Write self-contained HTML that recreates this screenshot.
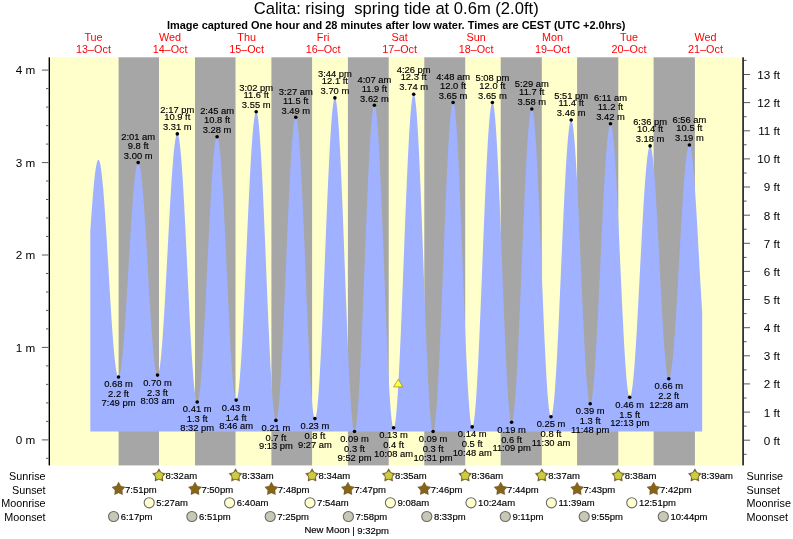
<!DOCTYPE html><html><head><meta charset="utf-8"><title>Calita tide times</title>
<style>html,body{margin:0;padding:0;background:#fff}svg{display:block}text{font-family:"Liberation Sans",Arial,Helvetica,sans-serif}</style></head><body>
<svg width="793" height="539" viewBox="0 0 793 539">
<rect width="793" height="539" fill="#fff"/>
<rect x="49.8" y="57.3" width="692.7" height="408.1" fill="#ffffcc"/>
<rect x="118.6" y="57.3" width="40.4" height="408.1" fill="#a6a6a6"/>
<rect x="195.0" y="57.3" width="40.5" height="408.1" fill="#a6a6a6"/>
<rect x="271.4" y="57.3" width="40.7" height="408.1" fill="#a6a6a6"/>
<rect x="347.9" y="57.3" width="40.8" height="408.1" fill="#a6a6a6"/>
<rect x="424.3" y="57.3" width="40.9" height="408.1" fill="#a6a6a6"/>
<rect x="500.7" y="57.3" width="41.1" height="408.1" fill="#a6a6a6"/>
<rect x="577.1" y="57.3" width="41.2" height="408.1" fill="#a6a6a6"/>
<rect x="653.6" y="57.3" width="41.3" height="408.1" fill="#a6a6a6"/>
<path d="M90.3 431.5 L90.3 231.2 L90.8 223.8 L91.3 216.5 L91.8 209.6 L92.3 202.9 L92.8 196.6 L93.3 190.7 L93.8 185.2 L94.3 180.2 L94.8 175.6 L95.3 171.6 L95.8 168.2 L96.3 165.3 L96.8 163.0 L97.3 161.3 L97.8 160.2 L98.3 159.8 L98.8 160.0 L99.3 160.8 L99.8 162.4 L100.3 164.5 L100.8 167.3 L101.3 170.7 L101.8 174.8 L102.3 179.4 L102.8 184.5 L103.3 190.1 L103.8 196.3 L104.3 202.8 L104.8 209.8 L105.3 217.2 L105.8 224.8 L106.3 232.7 L106.8 240.9 L107.3 249.2 L107.8 257.6 L108.3 266.1 L108.8 274.6 L109.3 283.0 L109.8 291.4 L110.3 299.6 L110.8 307.7 L111.3 315.5 L111.8 323.0 L112.3 330.2 L112.8 337.0 L113.3 343.3 L113.8 349.3 L114.3 354.7 L114.8 359.6 L115.3 363.9 L115.8 367.7 L116.3 370.8 L116.8 373.3 L117.3 375.2 L117.8 376.4 L118.3 377.0 L118.8 376.8 L119.3 376.1 L119.8 374.6 L120.3 372.5 L120.8 369.7 L121.3 366.3 L121.8 362.3 L122.3 357.7 L122.8 352.5 L123.3 346.9 L123.8 340.7 L124.3 334.1 L124.8 327.1 L125.3 319.7 L125.8 312.0 L126.3 304.1 L126.8 295.9 L127.3 287.5 L127.8 279.1 L128.3 270.6 L128.8 262.1 L129.3 253.6 L129.8 245.2 L130.3 237.0 L130.8 229.0 L131.3 221.3 L131.8 213.8 L132.3 206.7 L132.8 200.1 L133.3 193.8 L133.8 188.0 L134.3 182.8 L134.8 178.1 L135.3 174.0 L135.8 170.4 L136.3 167.6 L136.8 165.3 L137.3 163.7 L137.8 162.8 L138.3 162.6 L138.8 163.0 L139.3 164.2 L139.8 166.0 L140.3 168.6 L140.8 171.8 L141.3 175.7 L141.8 180.1 L142.3 185.2 L142.8 190.9 L143.3 197.0 L143.8 203.6 L144.3 210.7 L144.8 218.2 L145.3 225.9 L145.8 234.0 L146.3 242.3 L146.8 250.8 L147.3 259.4 L147.8 268.1 L148.3 276.8 L148.8 285.4 L149.3 293.9 L149.8 302.2 L150.3 310.4 L150.8 318.2 L151.3 325.7 L151.8 332.9 L152.3 339.6 L152.8 345.8 L153.3 351.5 L153.8 356.7 L154.3 361.3 L154.8 365.3 L155.3 368.6 L155.8 371.3 L156.3 373.2 L156.8 374.5 L157.3 375.1 L157.8 375.0 L158.3 374.1 L158.8 372.4 L159.3 370.1 L159.8 367.0 L160.3 363.2 L160.8 358.7 L161.3 353.6 L161.8 347.8 L162.3 341.5 L162.8 334.6 L163.3 327.3 L163.8 319.4 L164.3 311.2 L164.8 302.6 L165.3 293.7 L165.8 284.6 L166.3 275.3 L166.8 265.8 L167.3 256.3 L167.8 246.8 L168.3 237.3 L168.8 227.9 L169.3 218.7 L169.8 209.7 L170.3 201.0 L170.8 192.7 L171.3 184.7 L171.8 177.1 L172.3 170.1 L172.8 163.5 L173.3 157.6 L173.8 152.2 L174.3 147.5 L174.8 143.4 L175.3 140.1 L175.8 137.4 L176.3 135.5 L176.8 134.3 L177.3 133.9 L177.8 134.3 L178.3 135.5 L178.8 137.5 L179.3 140.3 L179.8 144.0 L180.3 148.4 L180.8 153.5 L181.3 159.3 L181.8 165.9 L182.3 173.0 L182.8 180.8 L183.3 189.1 L183.8 197.9 L184.3 207.1 L184.8 216.7 L185.3 226.6 L185.8 236.7 L186.3 247.1 L186.8 257.6 L187.3 268.2 L187.8 278.7 L188.3 289.2 L188.8 299.6 L189.3 309.7 L189.8 319.6 L190.3 329.2 L190.8 338.4 L191.3 347.2 L191.8 355.4 L192.3 363.2 L192.8 370.3 L193.3 376.8 L193.8 382.6 L194.3 387.7 L194.8 392.1 L195.3 395.7 L195.8 398.5 L196.3 400.5 L196.8 401.6 L197.3 401.9 L197.8 401.4 L198.3 400.1 L198.8 398.0 L199.3 395.0 L199.8 391.3 L200.3 386.7 L200.8 381.5 L201.3 375.5 L201.8 368.9 L202.3 361.7 L202.8 353.8 L203.3 345.5 L203.8 336.6 L204.3 327.4 L204.8 317.8 L205.3 307.8 L205.8 297.6 L206.3 287.3 L206.8 276.8 L207.3 266.3 L207.8 255.8 L208.3 245.4 L208.8 235.2 L209.3 225.1 L209.8 215.4 L210.3 205.9 L210.8 196.9 L211.3 188.3 L211.8 180.3 L212.3 172.8 L212.8 165.9 L213.3 159.6 L213.8 154.1 L214.3 149.2 L214.8 145.1 L215.3 141.8 L215.8 139.3 L216.3 137.7 L216.8 136.8 L217.3 136.8 L217.8 137.6 L218.3 139.4 L218.8 142.0 L219.3 145.4 L219.8 149.7 L220.3 154.7 L220.8 160.6 L221.3 167.1 L221.8 174.3 L222.3 182.2 L222.8 190.6 L223.3 199.6 L223.8 209.0 L224.3 218.8 L224.8 229.0 L225.3 239.4 L225.8 250.0 L226.3 260.7 L226.8 271.5 L227.3 282.3 L227.8 293.0 L228.3 303.5 L228.8 313.7 L229.3 323.7 L229.8 333.3 L230.3 342.5 L230.8 351.1 L231.3 359.2 L231.8 366.7 L232.3 373.6 L232.8 379.7 L233.3 385.1 L233.8 389.7 L234.3 393.5 L234.8 396.4 L235.3 398.5 L235.8 399.8 L236.3 400.1 L236.8 399.6 L237.3 398.1 L237.8 395.8 L238.3 392.6 L238.8 388.6 L239.3 383.8 L239.8 378.1 L240.3 371.7 L240.8 364.6 L241.3 356.9 L241.8 348.5 L242.3 339.5 L242.8 330.0 L243.3 320.1 L243.8 309.7 L244.3 299.0 L244.8 288.1 L245.3 277.0 L245.8 265.7 L246.3 254.4 L246.8 243.0 L247.3 231.8 L247.8 220.7 L248.3 209.8 L248.8 199.2 L249.3 189.0 L249.8 179.2 L250.3 169.8 L250.8 161.0 L251.3 152.8 L251.8 145.2 L252.3 138.3 L252.8 132.1 L253.3 126.7 L253.8 122.0 L254.3 118.2 L254.8 115.3 L255.3 113.2 L255.8 112.0 L256.3 111.7 L256.8 112.4 L257.3 114.0 L257.8 116.6 L258.3 120.1 L258.8 124.6 L259.3 130.0 L259.8 136.2 L260.3 143.2 L260.8 151.1 L261.3 159.6 L261.8 168.9 L262.3 178.7 L262.8 189.1 L263.3 200.0 L263.8 211.4 L264.3 223.0 L264.8 235.0 L265.3 247.1 L265.8 259.4 L266.3 271.7 L266.8 283.9 L267.3 296.1 L267.8 308.0 L268.3 319.7 L268.8 331.1 L269.3 342.0 L269.8 352.5 L270.3 362.4 L270.8 371.7 L271.3 380.3 L271.8 388.2 L272.3 395.3 L272.8 401.6 L273.3 407.1 L273.8 411.6 L274.3 415.3 L274.8 418.0 L275.3 419.7 L275.8 420.4 L276.3 420.2 L276.8 419.0 L277.3 416.9 L277.8 413.8 L278.3 409.9 L278.8 405.1 L279.3 399.4 L279.8 392.9 L280.3 385.6 L280.8 377.6 L281.3 369.0 L281.8 359.7 L282.3 349.8 L282.8 339.4 L283.3 328.6 L283.8 317.4 L284.3 305.9 L284.8 294.2 L285.3 282.3 L285.8 270.4 L286.3 258.4 L286.8 246.5 L287.3 234.7 L287.8 223.1 L288.3 211.9 L288.8 201.0 L289.3 190.5 L289.8 180.5 L290.3 171.0 L290.8 162.2 L291.3 154.0 L291.8 146.5 L292.3 139.9 L292.8 134.0 L293.3 128.9 L293.8 124.8 L294.3 121.5 L294.8 119.1 L295.3 117.7 L295.8 117.3 L296.3 117.8 L296.8 119.3 L297.3 121.8 L297.8 125.4 L298.3 129.8 L298.8 135.2 L299.3 141.5 L299.8 148.7 L300.3 156.6 L300.8 165.3 L301.3 174.7 L301.8 184.8 L302.3 195.4 L302.8 206.4 L303.3 217.9 L303.8 229.8 L304.3 241.8 L304.8 254.1 L305.3 266.5 L305.8 278.8 L306.3 291.1 L306.8 303.3 L307.3 315.1 L307.8 326.7 L308.3 337.9 L308.8 348.6 L309.3 358.8 L309.8 368.3 L310.3 377.2 L310.8 385.4 L311.3 392.7 L311.8 399.2 L312.3 404.8 L312.8 409.5 L313.3 413.3 L313.8 416.0 L314.3 417.8 L314.8 418.6 L315.3 418.3 L315.8 417.1 L316.3 414.9 L316.8 411.7 L317.3 407.6 L317.8 402.5 L318.3 396.6 L318.8 389.8 L319.3 382.2 L319.8 373.9 L320.3 364.8 L320.8 355.1 L321.3 344.8 L321.8 334.0 L322.3 322.7 L322.8 311.0 L323.3 298.9 L323.8 286.6 L324.3 274.2 L324.8 261.6 L325.3 249.1 L325.8 236.6 L326.3 224.2 L326.8 212.0 L327.3 200.1 L327.8 188.6 L328.3 177.5 L328.8 166.9 L329.3 156.8 L329.8 147.4 L330.3 138.7 L330.8 130.7 L331.3 123.4 L331.8 117.0 L332.3 111.5 L332.8 106.9 L333.3 103.2 L333.8 100.5 L334.3 98.7 L334.8 97.9 L335.3 98.1 L335.8 99.4 L336.3 101.8 L336.8 105.2 L337.3 109.6 L337.8 115.1 L338.3 121.5 L338.8 128.8 L339.3 137.0 L339.8 146.0 L340.3 155.8 L340.8 166.3 L341.3 177.4 L341.8 189.1 L342.3 201.3 L342.8 213.9 L343.3 226.8 L343.8 240.0 L344.3 253.3 L344.8 266.7 L345.3 280.1 L345.8 293.4 L346.3 306.5 L346.8 319.3 L347.3 331.8 L347.8 343.8 L348.3 355.4 L348.8 366.3 L349.3 376.6 L349.8 386.2 L350.3 395.0 L350.8 402.9 L351.3 410.0 L351.8 416.1 L352.3 421.2 L352.8 425.3 L353.3 428.4 L353.8 430.5 L354.3 431.4 L354.8 431.3 L355.3 430.2 L355.8 428.1 L356.3 425.0 L356.8 420.9 L357.3 415.9 L357.8 409.9 L358.3 403.1 L358.8 395.4 L359.3 387.0 L359.8 377.8 L360.3 367.9 L360.8 357.4 L361.3 346.4 L361.8 334.9 L362.3 322.9 L362.8 310.6 L363.3 298.1 L363.8 285.4 L364.3 272.5 L364.8 259.7 L365.3 246.9 L365.8 234.2 L366.3 221.7 L366.8 209.6 L367.3 197.8 L367.8 186.4 L368.3 175.6 L368.8 165.3 L369.3 155.6 L369.8 146.7 L370.3 138.5 L370.8 131.1 L371.3 124.6 L371.8 119.0 L372.3 114.3 L372.8 110.6 L373.3 107.8 L373.8 106.0 L374.3 105.3 L374.8 105.6 L375.3 106.9 L375.8 109.3 L376.3 112.8 L376.8 117.3 L377.3 122.8 L377.8 129.3 L378.3 136.7 L378.8 145.0 L379.3 154.1 L379.8 163.9 L380.3 174.4 L380.8 185.6 L381.3 197.2 L381.8 209.4 L382.3 221.9 L382.8 234.8 L383.3 247.8 L383.8 261.0 L384.3 274.2 L384.8 287.3 L385.3 300.3 L385.8 313.1 L386.3 325.6 L386.8 337.7 L387.3 349.3 L387.8 360.3 L388.3 370.8 L388.8 380.5 L389.3 389.4 L389.8 397.6 L390.3 404.8 L390.8 411.2 L391.3 416.5 L391.8 420.9 L392.3 424.2 L392.8 426.5 L393.3 427.6 L393.8 427.8 L394.3 426.8 L394.8 424.9 L395.3 422.0 L395.8 418.0 L396.3 413.2 L396.8 407.4 L397.3 400.7 L397.8 393.1 L398.3 384.7 L398.8 375.6 L399.3 365.8 L399.8 355.3 L400.3 344.3 L400.8 332.7 L401.3 320.7 L401.8 308.4 L402.3 295.7 L402.8 282.9 L403.3 269.9 L403.8 256.8 L404.3 243.8 L404.8 230.9 L405.3 218.2 L405.8 205.7 L406.3 193.6 L406.8 181.9 L407.3 170.6 L407.8 159.9 L408.3 149.9 L408.8 140.5 L409.3 131.8 L409.8 124.0 L410.3 117.0 L410.8 110.8 L411.3 105.6 L411.8 101.3 L412.3 98.0 L412.8 95.7 L413.3 94.5 L413.8 94.2 L414.3 95.0 L414.8 96.9 L415.3 99.9 L415.8 104.0 L416.3 109.1 L416.8 115.2 L417.3 122.3 L417.8 130.3 L418.3 139.2 L418.8 148.9 L419.3 159.4 L419.8 170.5 L420.3 182.2 L420.8 194.5 L421.3 207.2 L421.8 220.2 L422.3 233.6 L422.8 247.1 L423.3 260.8 L423.8 274.4 L424.3 288.0 L424.8 301.4 L425.3 314.6 L425.8 327.4 L426.3 339.8 L426.8 351.7 L427.3 363.0 L427.8 373.7 L428.3 383.6 L428.8 392.7 L429.3 401.0 L429.8 408.4 L430.3 414.8 L430.8 420.2 L431.3 424.6 L431.8 428.0 L432.3 430.2 L432.8 431.4 L433.3 431.4 L433.8 430.5 L434.3 428.5 L434.8 425.5 L435.3 421.6 L435.8 416.7 L436.3 410.9 L436.8 404.2 L437.3 396.7 L437.8 388.3 L438.3 379.2 L438.8 369.5 L439.3 359.1 L439.8 348.1 L440.3 336.6 L440.8 324.7 L441.3 312.5 L441.8 300.0 L442.3 287.2 L442.8 274.4 L443.3 261.5 L443.8 248.6 L444.3 235.9 L444.8 223.3 L445.3 211.0 L445.8 199.1 L446.3 187.5 L446.8 176.5 L447.3 166.0 L447.8 156.1 L448.3 147.0 L448.8 138.5 L449.3 130.9 L449.8 124.0 L450.3 118.1 L450.8 113.1 L451.3 109.0 L451.8 105.9 L452.3 103.8 L452.8 102.7 L453.3 102.6 L453.8 103.6 L454.3 105.6 L454.8 108.8 L455.3 113.0 L455.8 118.2 L456.3 124.4 L456.8 131.5 L457.3 139.6 L457.8 148.5 L458.3 158.1 L458.8 168.5 L459.3 179.6 L459.8 191.2 L460.3 203.3 L460.8 215.8 L461.3 228.7 L461.8 241.8 L462.3 255.0 L462.8 268.4 L463.3 281.7 L463.8 294.8 L464.3 307.8 L464.8 320.5 L465.3 332.8 L465.8 344.6 L466.3 356.0 L466.8 366.7 L467.3 376.7 L467.8 385.9 L468.3 394.3 L468.8 401.9 L469.3 408.5 L469.8 414.2 L470.3 418.9 L470.8 422.5 L471.3 425.0 L471.8 426.5 L472.3 426.9 L472.8 426.3 L473.3 424.6 L473.8 422.1 L474.3 418.5 L474.8 414.1 L475.3 408.7 L475.8 402.4 L476.3 395.4 L476.8 387.5 L477.3 378.9 L477.8 369.6 L478.3 359.7 L478.8 349.1 L479.3 338.1 L479.8 326.7 L480.3 314.8 L480.8 302.7 L481.3 290.3 L481.8 277.8 L482.3 265.2 L482.8 252.6 L483.3 240.0 L483.8 227.6 L484.3 215.5 L484.8 203.6 L485.3 192.1 L485.8 181.1 L486.3 170.5 L486.8 160.5 L487.3 151.2 L487.8 142.5 L488.3 134.6 L488.8 127.4 L489.3 121.1 L489.8 115.7 L490.3 111.2 L490.8 107.6 L491.3 104.9 L491.8 103.2 L492.3 102.5 L492.8 102.8 L493.3 104.2 L493.8 106.6 L494.3 110.1 L494.8 114.6 L495.3 120.0 L495.8 126.5 L496.3 133.8 L496.8 142.0 L497.3 151.1 L497.8 160.8 L498.3 171.3 L498.8 182.3 L499.3 193.9 L499.8 206.0 L500.3 218.4 L500.8 231.1 L501.3 244.0 L501.8 257.1 L502.3 270.2 L502.8 283.2 L503.3 296.1 L503.8 308.8 L504.3 321.2 L504.8 333.1 L505.3 344.6 L505.8 355.6 L506.3 365.9 L506.8 375.5 L507.3 384.4 L507.8 392.4 L508.3 399.6 L508.8 405.9 L509.3 411.2 L509.8 415.5 L510.3 418.7 L510.8 420.9 L511.3 422.1 L511.8 422.2 L512.3 421.3 L512.8 419.5 L513.3 416.8 L513.8 413.1 L514.3 408.6 L514.8 403.2 L515.3 396.9 L515.8 389.9 L516.3 382.1 L516.8 373.6 L517.3 364.4 L517.8 354.7 L518.3 344.4 L518.8 333.6 L519.3 322.4 L519.8 310.9 L520.3 299.1 L520.8 287.1 L521.3 275.0 L521.8 262.8 L522.3 250.6 L522.8 238.6 L523.3 226.6 L523.8 215.0 L524.3 203.6 L524.8 192.6 L525.3 182.0 L525.8 172.0 L526.3 162.5 L526.8 153.7 L527.3 145.5 L527.8 138.0 L528.3 131.3 L528.8 125.5 L529.3 120.5 L529.8 116.3 L530.3 113.1 L530.8 110.8 L531.3 109.4 L531.8 109.0 L532.3 109.5 L532.8 111.1 L533.3 113.7 L533.8 117.3 L534.3 121.9 L534.8 127.4 L535.3 133.9 L535.8 141.2 L536.3 149.3 L536.8 158.2 L537.3 167.7 L537.8 177.9 L538.3 188.7 L538.8 200.0 L539.3 211.7 L539.8 223.8 L540.3 236.1 L540.8 248.6 L541.3 261.2 L541.8 273.7 L542.3 286.3 L542.8 298.6 L543.3 310.8 L543.8 322.6 L544.3 334.0 L544.8 344.9 L545.3 355.3 L545.8 365.0 L546.3 374.1 L546.8 382.4 L547.3 390.0 L547.8 396.6 L548.3 402.4 L548.8 407.2 L549.3 411.1 L549.8 414.0 L550.3 415.9 L550.8 416.7 L551.3 416.5 L551.8 415.5 L552.3 413.5 L552.8 410.7 L553.3 407.0 L553.8 402.5 L554.3 397.2 L554.8 391.1 L555.3 384.3 L555.8 376.8 L556.3 368.6 L556.8 359.8 L557.3 350.5 L557.8 340.6 L558.3 330.4 L558.8 319.7 L559.3 308.8 L559.8 297.6 L560.3 286.2 L560.8 274.8 L561.3 263.2 L561.8 251.8 L562.3 240.4 L562.8 229.2 L563.3 218.2 L563.8 207.5 L564.3 197.2 L564.8 187.4 L565.3 178.0 L565.8 169.1 L566.3 160.9 L566.8 153.3 L567.3 146.4 L567.8 140.2 L568.3 134.8 L568.8 130.2 L569.3 126.4 L569.8 123.5 L570.3 121.5 L570.8 120.3 L571.3 120.1 L571.8 120.7 L572.3 122.4 L572.8 125.0 L573.3 128.6 L573.8 133.0 L574.3 138.4 L574.8 144.6 L575.3 151.6 L575.8 159.3 L576.3 167.8 L576.8 176.9 L577.3 186.6 L577.8 196.8 L578.3 207.4 L578.8 218.5 L579.3 229.8 L579.8 241.3 L580.3 253.0 L580.8 264.7 L581.3 276.5 L581.8 288.1 L582.3 299.5 L582.8 310.7 L583.3 321.6 L583.8 332.0 L584.3 342.0 L584.8 351.4 L585.3 360.2 L585.8 368.3 L586.3 375.7 L586.8 382.4 L587.3 388.1 L587.8 393.1 L588.3 397.1 L588.8 400.2 L589.3 402.4 L589.8 403.5 L590.3 403.8 L590.8 403.1 L591.3 401.6 L591.8 399.4 L592.3 396.2 L592.8 392.4 L593.3 387.7 L593.8 382.3 L594.3 376.2 L594.8 369.4 L595.3 362.0 L595.8 354.0 L596.3 345.5 L596.8 336.5 L597.3 327.0 L597.8 317.2 L598.3 307.1 L598.8 296.7 L599.3 286.1 L599.8 275.3 L600.3 264.5 L600.8 253.7 L601.3 243.0 L601.8 232.4 L602.3 222.0 L602.8 211.8 L603.3 201.9 L603.8 192.4 L604.3 183.3 L604.8 174.7 L605.3 166.6 L605.8 159.2 L606.3 152.3 L606.8 146.1 L607.3 140.6 L607.8 135.8 L608.3 131.8 L608.8 128.6 L609.3 126.2 L609.8 124.6 L610.3 123.8 L610.8 123.9 L611.3 124.9 L611.8 126.8 L612.3 129.6 L612.8 133.2 L613.3 137.7 L613.8 143.0 L614.3 149.1 L614.8 156.0 L615.3 163.5 L615.8 171.7 L616.3 180.5 L616.8 189.8 L617.3 199.6 L617.8 209.8 L618.3 220.4 L618.8 231.2 L619.3 242.2 L619.8 253.3 L620.3 264.4 L620.8 275.6 L621.3 286.6 L621.8 297.5 L622.3 308.1 L622.8 318.4 L623.3 328.3 L623.8 337.8 L624.3 346.8 L624.8 355.1 L625.3 362.9 L625.8 370.0 L626.3 376.3 L626.8 381.8 L627.3 386.6 L627.8 390.5 L628.3 393.6 L628.8 395.7 L629.3 397.0 L629.8 397.3 L630.3 396.9 L630.8 395.7 L631.3 393.7 L631.8 391.0 L632.3 387.6 L632.8 383.6 L633.3 378.8 L633.8 373.4 L634.3 367.4 L634.8 360.9 L635.3 353.8 L635.8 346.2 L636.3 338.2 L636.8 329.8 L637.3 321.0 L637.8 311.9 L638.3 302.6 L638.8 293.1 L639.3 283.5 L639.8 273.8 L640.3 264.1 L640.8 254.5 L641.3 244.9 L641.8 235.5 L642.3 226.4 L642.8 217.4 L643.3 208.9 L643.8 200.6 L644.3 192.9 L644.8 185.5 L645.3 178.7 L645.8 172.5 L646.3 166.8 L646.8 161.8 L647.3 157.4 L647.8 153.7 L648.3 150.7 L648.8 148.4 L649.3 146.9 L649.8 146.0 L650.3 146.0 L650.8 146.8 L651.3 148.3 L651.8 150.7 L652.3 153.9 L652.8 157.8 L653.3 162.5 L653.8 167.8 L654.3 173.9 L654.8 180.6 L655.3 187.8 L655.8 195.6 L656.3 203.8 L656.8 212.5 L657.3 221.5 L657.8 230.7 L658.3 240.3 L658.8 249.9 L659.3 259.7 L659.8 269.5 L660.3 279.2 L660.8 288.8 L661.3 298.2 L661.8 307.4 L662.3 316.3 L662.8 324.7 L663.3 332.8 L663.8 340.3 L664.3 347.3 L664.8 353.7 L665.3 359.4 L665.8 364.5 L666.3 368.8 L666.8 372.4 L667.3 375.2 L667.8 377.2 L668.3 378.5 L668.8 378.8 L669.3 378.5 L669.8 377.5 L670.3 375.8 L670.8 373.4 L671.3 370.4 L671.8 366.7 L672.3 362.5 L672.8 357.7 L673.3 352.3 L673.8 346.4 L674.3 339.9 L674.8 333.1 L675.3 325.8 L675.8 318.2 L676.3 310.2 L676.8 302.0 L677.3 293.5 L677.8 284.8 L678.3 276.0 L678.8 267.2 L679.3 258.2 L679.8 249.4 L680.3 240.5 L680.8 231.9 L681.3 223.3 L681.8 215.1 L682.3 207.0 L682.8 199.3 L683.3 192.0 L683.8 185.1 L684.3 178.6 L684.8 172.6 L685.3 167.1 L685.8 162.2 L686.3 157.8 L686.8 154.1 L687.3 150.9 L687.8 148.5 L688.3 146.6 L688.8 145.5 L689.3 145.0 L689.8 145.2 L690.3 146.2 L690.8 148.0 L691.3 150.5 L691.8 153.7 L692.3 157.6 L692.8 162.2 L693.3 167.4 L693.8 173.2 L694.3 179.6 L694.8 186.5 L695.3 193.9 L695.8 201.7 L696.3 209.8 L696.8 218.3 L697.3 227.0 L697.8 235.9 L698.3 244.9 L698.8 254.0 L699.3 263.1 L699.8 272.1 L700.3 280.9 L700.8 289.6 L701.3 298.0 L701.8 306.1 L702.2 312.3 L702.2 431.5 Z" fill="#a0b2ff"/>
<rect x="48.6" y="57.3" width="1.4" height="408.1" fill="#000"/><rect x="742.2" y="57.3" width="1.8" height="408.1" fill="#333"/>
<path d="M46 458.3 H48.3 M41.9 439.9 H48.3 M46 421.4 H48.3 M46 402.9 H48.3 M46 384.4 H48.3 M46 365.9 H48.3 M41.9 347.4 H48.3 M46 328.9 H48.3 M46 310.4 H48.3 M46 292.0 H48.3 M46 273.5 H48.3 M41.9 255.0 H48.3 M46 236.5 H48.3 M46 218.0 H48.3 M46 199.5 H48.3 M46 181.0 H48.3 M41.9 162.6 H48.3 M46 144.1 H48.3 M46 125.6 H48.3 M46 107.1 H48.3 M46 88.6 H48.3 M41.9 70.1 H48.3 M743.8 454.3 H746.6 M743.8 440.2 H750 M743.8 426.1 H746.6 M743.8 412.1 H750 M743.8 398.0 H746.6 M743.8 383.9 H750 M743.8 369.9 H746.6 M743.8 355.8 H750 M743.8 341.7 H746.6 M743.8 327.7 H750 M743.8 313.6 H746.6 M743.8 299.5 H750 M743.8 285.5 H746.6 M743.8 271.4 H750 M743.8 257.4 H746.6 M743.8 243.3 H750 M743.8 229.2 H746.6 M743.8 215.2 H750 M743.8 201.1 H746.6 M743.8 187.0 H750 M743.8 173.0 H746.6 M743.8 158.9 H750 M743.8 144.8 H746.6 M743.8 130.8 H750 M743.8 116.7 H746.6 M743.8 102.6 H750 M743.8 88.6 H746.6 M743.8 74.5 H750 M743.8 60.4 H746.6" stroke="#000" stroke-width="0.65" fill="none"/>
<g font-size="11.7px" fill="#000" text-anchor="end">
<text x="35.3" y="444.2">0 m</text>
<text x="35.3" y="351.7">1 m</text>
<text x="35.3" y="259.3">2 m</text>
<text x="35.3" y="166.9">3 m</text>
<text x="35.3" y="74.4">4 m</text>
<text x="780.1" y="444.6">0 ft</text>
<text x="780.1" y="416.5">1 ft</text>
<text x="780.1" y="388.3">2 ft</text>
<text x="780.1" y="360.2">3 ft</text>
<text x="780.1" y="332.1">4 ft</text>
<text x="780.1" y="303.9">5 ft</text>
<text x="780.1" y="275.8">6 ft</text>
<text x="780.1" y="247.7">7 ft</text>
<text x="780.1" y="219.6">8 ft</text>
<text x="780.1" y="191.4">9 ft</text>
<text x="780.1" y="163.3">10 ft</text>
<text x="780.1" y="135.2">11 ft</text>
<text x="780.1" y="107.0">12 ft</text>
<text x="780.1" y="78.9">13 ft</text>
</g>
<text x="396.2" y="14.1" font-size="16.6px" text-anchor="middle" fill="#000" style="white-space:pre">Calita: rising  spring tide at 0.6m (2.0ft)</text>
<text x="396.2" y="29" font-size="10.96px" font-weight="bold" text-anchor="middle" fill="#000">Image captured One hour and 28 minutes after low water. Times are CEST (UTC +2.0hrs)</text>
<g font-size="10.8px" fill="#ff0000" text-anchor="middle">
<text x="93.5" y="41">Tue</text><text x="93.5" y="53">13–Oct</text>
<text x="170.1" y="41">Wed</text><text x="170.1" y="53">14–Oct</text>
<text x="246.6" y="41">Thu</text><text x="246.6" y="53">15–Oct</text>
<text x="323.1" y="41">Fri</text><text x="323.1" y="53">16–Oct</text>
<text x="399.6" y="41">Sat</text><text x="399.6" y="53">17–Oct</text>
<text x="476.1" y="41">Sun</text><text x="476.1" y="53">18–Oct</text>
<text x="552.5" y="41">Mon</text><text x="552.5" y="53">19–Oct</text>
<text x="629.0" y="41">Tue</text><text x="629.0" y="53">20–Oct</text>
<text x="705.5" y="41">Wed</text><text x="705.5" y="53">21–Oct</text>
</g>
<g font-size="9.4px" fill="#000" stroke="#000" stroke-width="0.15" text-anchor="middle">
<text x="118.5" y="387">0.68 m</text><text x="118.5" y="397">2.2 ft</text><text x="118.5" y="406">7:49 pm</text>
<text x="138.2" y="140">2:01 am</text><text x="138.2" y="149">9.8 ft</text><text x="138.2" y="159">3.00 m</text>
<text x="157.5" y="386">0.70 m</text><text x="157.5" y="396">2.3 ft</text><text x="157.5" y="404">8:03 am</text>
<text x="177.3" y="113">2:17 pm</text><text x="177.3" y="120">10.9 ft</text><text x="177.3" y="130">3.31 m</text>
<text x="197.2" y="412">0.41 m</text><text x="197.2" y="422">1.3 ft</text><text x="197.2" y="431">8:32 pm</text>
<text x="217.1" y="114">2:45 am</text><text x="217.1" y="123">10.8 ft</text><text x="217.1" y="133">3.28 m</text>
<text x="236.2" y="411">0.43 m</text><text x="236.2" y="421">1.4 ft</text><text x="236.2" y="429">8:46 am</text>
<text x="256.2" y="91">3:02 pm</text><text x="256.2" y="98">11.6 ft</text><text x="256.2" y="108">3.55 m</text>
<text x="275.9" y="431">0.21 m</text><text x="275.9" y="441">0.7 ft</text><text x="275.9" y="449">9:13 pm</text>
<text x="295.8" y="95">3:27 am</text><text x="295.8" y="104">11.5 ft</text><text x="295.8" y="114">3.49 m</text>
<text x="314.9" y="429">0.23 m</text><text x="314.9" y="439">0.8 ft</text><text x="314.9" y="448">9:27 am</text>
<text x="334.9" y="77">3:44 pm</text><text x="334.9" y="84">12.1 ft</text><text x="334.9" y="94">3.70 m</text>
<text x="354.5" y="442">0.09 m</text><text x="354.5" y="452">0.3 ft</text><text x="354.5" y="461">9:52 pm</text>
<text x="374.4" y="83">4:07 am</text><text x="374.4" y="92">11.9 ft</text><text x="374.4" y="102">3.62 m</text>
<text x="393.6" y="438">0.13 m</text><text x="393.6" y="448">0.4 ft</text><text x="393.6" y="457">10:08 am</text>
<text x="413.7" y="73">4:26 pm</text><text x="413.7" y="80">12.3 ft</text><text x="413.7" y="90">3.74 m</text>
<text x="433.1" y="442">0.09 m</text><text x="433.1" y="452">0.3 ft</text><text x="433.1" y="461">10:31 pm</text>
<text x="453.1" y="80">4:48 am</text><text x="453.1" y="89">12.0 ft</text><text x="453.1" y="99">3.65 m</text>
<text x="472.2" y="437">0.14 m</text><text x="472.2" y="447">0.5 ft</text><text x="472.2" y="456">10:48 am</text>
<text x="492.4" y="81">5:08 pm</text><text x="492.4" y="89">12.0 ft</text><text x="492.4" y="99">3.65 m</text>
<text x="511.6" y="433">0.19 m</text><text x="511.6" y="443">0.6 ft</text><text x="511.6" y="451">11:09 pm</text>
<text x="531.8" y="87">5:29 am</text><text x="531.8" y="95">11.7 ft</text><text x="531.8" y="105">3.58 m</text>
<text x="551.0" y="427">0.25 m</text><text x="551.0" y="437">0.8 ft</text><text x="551.0" y="446">11:30 am</text>
<text x="571.2" y="99">5:51 pm</text><text x="571.2" y="106">11.4 ft</text><text x="571.2" y="116">3.46 m</text>
<text x="590.2" y="414">0.39 m</text><text x="590.2" y="424">1.3 ft</text><text x="590.2" y="433">11:48 pm</text>
<text x="610.5" y="101">6:11 am</text><text x="610.5" y="110">11.2 ft</text><text x="610.5" y="120">3.42 m</text>
<text x="629.7" y="408">0.46 m</text><text x="629.7" y="418">1.5 ft</text><text x="629.7" y="426">12:13 pm</text>
<text x="650.1" y="125">6:36 pm</text><text x="650.1" y="132">10.4 ft</text><text x="650.1" y="142">3.18 m</text>
<text x="668.8" y="389">0.66 m</text><text x="668.8" y="399">2.2 ft</text><text x="668.8" y="408">12:28 am</text>
<text x="689.4" y="123">6:56 am</text><text x="689.4" y="131">10.5 ft</text><text x="689.4" y="141">3.19 m</text>
</g>
<g fill="#000">
<circle cx="118.5" cy="377.0" r="1.8"/>
<circle cx="138.2" cy="162.6" r="1.8"/>
<circle cx="157.5" cy="375.1" r="1.8"/>
<circle cx="177.3" cy="133.9" r="1.8"/>
<circle cx="197.2" cy="402.0" r="1.8"/>
<circle cx="217.1" cy="136.7" r="1.8"/>
<circle cx="236.2" cy="400.1" r="1.8"/>
<circle cx="256.2" cy="111.7" r="1.8"/>
<circle cx="275.9" cy="420.4" r="1.8"/>
<circle cx="295.8" cy="117.3" r="1.8"/>
<circle cx="314.9" cy="418.6" r="1.8"/>
<circle cx="334.9" cy="97.9" r="1.8"/>
<circle cx="354.5" cy="431.5" r="1.8"/>
<circle cx="374.4" cy="105.3" r="1.8"/>
<circle cx="393.6" cy="427.8" r="1.8"/>
<circle cx="413.7" cy="94.2" r="1.8"/>
<circle cx="433.1" cy="431.5" r="1.8"/>
<circle cx="453.1" cy="102.5" r="1.8"/>
<circle cx="472.2" cy="426.9" r="1.8"/>
<circle cx="492.4" cy="102.5" r="1.8"/>
<circle cx="511.6" cy="422.3" r="1.8"/>
<circle cx="531.8" cy="109.0" r="1.8"/>
<circle cx="551.0" cy="416.7" r="1.8"/>
<circle cx="571.2" cy="120.0" r="1.8"/>
<circle cx="590.2" cy="403.8" r="1.8"/>
<circle cx="610.5" cy="123.7" r="1.8"/>
<circle cx="629.7" cy="397.3" r="1.8"/>
<circle cx="650.1" cy="145.9" r="1.8"/>
<circle cx="668.8" cy="378.8" r="1.8"/>
<circle cx="689.4" cy="145.0" r="1.8"/>
</g>
<path d="M398.3 379.3 L403 386.9 H393.6 Z" fill="#ffff44" stroke="#8a7010" stroke-width="0.6"/>
<g font-size="10.8px" fill="#000">
<text x="45.6" y="479.7" text-anchor="end">Sunrise</text>
<text x="746.5" y="479.7">Sunrise</text>
<text x="45.6" y="493.5" text-anchor="end">Sunset</text>
<text x="746.5" y="493.5">Sunset</text>
<text x="45.6" y="506.9" text-anchor="end">Moonrise</text>
<text x="746.5" y="506.9">Moonrise</text>
<text x="45.6" y="520.5" text-anchor="end">Moonset</text>
<text x="746.5" y="520.5">Moonset</text>
</g>
<g font-size="9.5px" fill="#000" stroke="#000" stroke-width="0.15">
<path d="M159.0 468.6 L161.3 472.4 L165.7 473.4 L162.7 476.8 L163.1 481.3 L159.0 479.5 L154.9 481.3 L155.3 476.8 L152.3 473.4 L156.7 472.4 Z" fill="#86641a"/><path d="M159.0 470.9 L161.1 472.7 L163.5 474.1 L162.4 476.7 L161.8 479.4 L159.0 479.2 L156.2 479.4 L155.6 476.7 L154.5 474.1 L156.9 472.7 Z" fill="#cccc40"/>
<text x="165.4" y="479.3">8:32am</text>
<path d="M235.6 468.6 L237.8 472.4 L242.2 473.4 L239.3 476.8 L239.7 481.3 L235.6 479.5 L231.4 481.3 L231.8 476.8 L228.9 473.4 L233.3 472.4 Z" fill="#86641a"/><path d="M235.6 470.9 L237.7 472.7 L240.0 474.1 L239.0 476.7 L238.3 479.4 L235.6 479.2 L232.8 479.4 L232.1 476.7 L231.1 474.1 L233.4 472.7 Z" fill="#cccc40"/>
<text x="242.0" y="479.3">8:33am</text>
<path d="M312.1 468.6 L314.4 472.4 L318.8 473.4 L315.8 476.8 L316.2 481.3 L312.1 479.5 L308.0 481.3 L308.4 476.8 L305.4 473.4 L309.8 472.4 Z" fill="#86641a"/><path d="M312.1 470.9 L314.2 472.7 L316.6 474.1 L315.5 476.7 L314.9 479.4 L312.1 479.2 L309.3 479.4 L308.7 476.7 L307.6 474.1 L310.0 472.7 Z" fill="#cccc40"/>
<text x="318.5" y="479.3">8:34am</text>
<path d="M388.7 468.6 L391.0 472.4 L395.3 473.4 L392.4 476.8 L392.8 481.3 L388.7 479.5 L384.5 481.3 L385.0 476.8 L382.0 473.4 L386.4 472.4 Z" fill="#86641a"/><path d="M388.7 470.9 L390.8 472.7 L393.1 474.1 L392.1 476.7 L391.4 479.4 L388.7 479.2 L385.9 479.4 L385.2 476.7 L384.2 474.1 L386.5 472.7 Z" fill="#cccc40"/>
<text x="395.1" y="479.3">8:35am</text>
<path d="M465.2 468.6 L467.5 472.4 L471.9 473.4 L468.9 476.8 L469.3 481.3 L465.2 479.5 L461.1 481.3 L461.5 476.8 L458.6 473.4 L462.9 472.4 Z" fill="#86641a"/><path d="M465.2 470.9 L467.3 472.7 L469.7 474.1 L468.6 476.7 L468.0 479.4 L465.2 479.2 L462.4 479.4 L461.8 476.7 L460.7 474.1 L463.1 472.7 Z" fill="#cccc40"/>
<text x="471.6" y="479.3">8:36am</text>
<path d="M541.8 468.6 L544.1 472.4 L548.4 473.4 L545.5 476.8 L545.9 481.3 L541.8 479.5 L537.7 481.3 L538.1 476.8 L535.1 473.4 L539.5 472.4 Z" fill="#86641a"/><path d="M541.8 470.9 L543.9 472.7 L546.2 474.1 L545.2 476.7 L544.5 479.4 L541.8 479.2 L539.0 479.4 L538.3 476.7 L537.3 474.1 L539.6 472.7 Z" fill="#cccc40"/>
<text x="548.2" y="479.3">8:37am</text>
<path d="M618.3 468.6 L620.6 472.4 L625.0 473.4 L622.0 476.8 L622.4 481.3 L618.3 479.5 L614.2 481.3 L614.6 476.8 L611.7 473.4 L616.0 472.4 Z" fill="#86641a"/><path d="M618.3 470.9 L620.4 472.7 L622.8 474.1 L621.7 476.7 L621.1 479.4 L618.3 479.2 L615.6 479.4 L614.9 476.7 L613.8 474.1 L616.2 472.7 Z" fill="#cccc40"/>
<text x="624.7" y="479.3">8:38am</text>
<path d="M694.9 468.6 L697.2 472.4 L701.5 473.4 L698.6 476.8 L699.0 481.3 L694.9 479.5 L690.8 481.3 L691.2 476.8 L688.2 473.4 L692.6 472.4 Z" fill="#86641a"/><path d="M694.9 470.9 L697.0 472.7 L699.3 474.1 L698.3 476.7 L697.6 479.4 L694.9 479.2 L692.1 479.4 L691.4 476.7 L690.4 474.1 L692.8 472.7 Z" fill="#cccc40"/>
<text x="701.3" y="479.3">8:39am</text>
<path d="M118.6 482.1 L120.9 485.9 L125.2 486.9 L122.3 490.3 L122.7 494.8 L118.6 493.0 L114.5 494.8 L114.9 490.3 L111.9 486.9 L116.3 485.9 Z" fill="#86641a"/>
<text x="125.0" y="493.1">7:51pm</text>
<path d="M195.0 482.1 L197.3 485.9 L201.7 486.9 L198.7 490.3 L199.1 494.8 L195.0 493.0 L190.9 494.8 L191.3 490.3 L188.4 486.9 L192.7 485.9 Z" fill="#86641a"/>
<text x="201.4" y="493.1">7:50pm</text>
<path d="M271.4 482.1 L273.7 485.9 L278.1 486.9 L275.1 490.3 L275.5 494.8 L271.4 493.0 L267.3 494.8 L267.7 490.3 L264.8 486.9 L269.1 485.9 Z" fill="#86641a"/>
<text x="277.8" y="493.1">7:48pm</text>
<path d="M347.9 482.1 L350.2 485.9 L354.5 486.9 L351.6 490.3 L352.0 494.8 L347.9 493.0 L343.7 494.8 L344.2 490.3 L341.2 486.9 L345.6 485.9 Z" fill="#86641a"/>
<text x="354.3" y="493.1">7:47pm</text>
<path d="M424.3 482.1 L426.6 485.9 L431.0 486.9 L428.0 490.3 L428.4 494.8 L424.3 493.0 L420.2 494.8 L420.6 490.3 L417.6 486.9 L422.0 485.9 Z" fill="#86641a"/>
<text x="430.7" y="493.1">7:46pm</text>
<path d="M500.7 482.1 L503.0 485.9 L507.4 486.9 L504.4 490.3 L504.8 494.8 L500.7 493.0 L496.6 494.8 L497.0 490.3 L494.0 486.9 L498.4 485.9 Z" fill="#86641a"/>
<text x="507.1" y="493.1">7:44pm</text>
<path d="M577.1 482.1 L579.4 485.9 L583.8 486.9 L580.9 490.3 L581.3 494.8 L577.1 493.0 L573.0 494.8 L573.4 490.3 L570.5 486.9 L574.9 485.9 Z" fill="#86641a"/>
<text x="583.5" y="493.1">7:43pm</text>
<path d="M653.6 482.1 L655.9 485.9 L660.3 486.9 L657.3 490.3 L657.7 494.8 L653.6 493.0 L649.5 494.8 L649.9 490.3 L646.9 486.9 L651.3 485.9 Z" fill="#86641a"/>
<text x="660.0" y="493.1">7:42pm</text>
<circle cx="149.2" cy="502.8" r="5.05" fill="#ffffcc" stroke="#6a6a6a" stroke-width="1.1"/>
<text x="156.3" y="506.2">5:27am</text>
<circle cx="229.6" cy="502.8" r="5.05" fill="#ffffcc" stroke="#6a6a6a" stroke-width="1.1"/>
<text x="236.7" y="506.2">6:40am</text>
<circle cx="310.0" cy="502.8" r="5.05" fill="#ffffcc" stroke="#6a6a6a" stroke-width="1.1"/>
<text x="317.1" y="506.2">7:54am</text>
<circle cx="390.4" cy="502.8" r="5.05" fill="#ffffcc" stroke="#6a6a6a" stroke-width="1.1"/>
<text x="397.5" y="506.2">9:08am</text>
<circle cx="471.0" cy="502.8" r="5.05" fill="#ffffcc" stroke="#6a6a6a" stroke-width="1.1"/>
<text x="478.1" y="506.2">10:24am</text>
<circle cx="551.4" cy="502.8" r="5.05" fill="#ffffcc" stroke="#6a6a6a" stroke-width="1.1"/>
<text x="558.5" y="506.2">11:39am</text>
<circle cx="631.8" cy="502.8" r="5.05" fill="#ffffcc" stroke="#6a6a6a" stroke-width="1.1"/>
<text x="638.9" y="506.2">12:51pm</text>
<circle cx="113.6" cy="516.5" r="5.05" fill="#c8c8b4" stroke="#6a6a6a" stroke-width="1.1"/>
<text x="120.7" y="520.2">6:17pm</text>
<circle cx="191.9" cy="516.5" r="5.05" fill="#c8c8b4" stroke="#6a6a6a" stroke-width="1.1"/>
<text x="199.0" y="520.2">6:51pm</text>
<circle cx="270.2" cy="516.5" r="5.05" fill="#c8c8b4" stroke="#6a6a6a" stroke-width="1.1"/>
<text x="277.3" y="520.2">7:25pm</text>
<circle cx="348.4" cy="516.5" r="5.05" fill="#c8c8b4" stroke="#6a6a6a" stroke-width="1.1"/>
<text x="355.5" y="520.2">7:58pm</text>
<circle cx="426.8" cy="516.5" r="5.05" fill="#c8c8b4" stroke="#6a6a6a" stroke-width="1.1"/>
<text x="433.9" y="520.2">8:33pm</text>
<circle cx="505.3" cy="516.5" r="5.05" fill="#c8c8b4" stroke="#6a6a6a" stroke-width="1.1"/>
<text x="512.4" y="520.2">9:11pm</text>
<circle cx="584.2" cy="516.5" r="5.05" fill="#c8c8b4" stroke="#6a6a6a" stroke-width="1.1"/>
<text x="591.3" y="520.2">9:55pm</text>
<circle cx="663.3" cy="516.5" r="5.05" fill="#c8c8b4" stroke="#6a6a6a" stroke-width="1.1"/>
<text x="670.4" y="520.2">10:44pm</text>
<text x="349.9" y="532.6" text-anchor="end">New Moon</text>
<text x="352.2" y="534.2">| 9:32pm</text>
</g>
</svg></body></html>
